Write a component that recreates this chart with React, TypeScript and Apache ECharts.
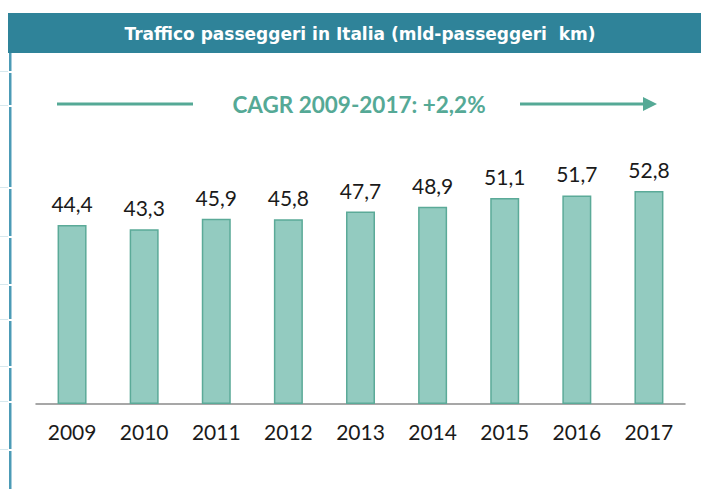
import React, { useEffect, useRef } from "react";
import * as echarts from "echarts";

const years = ["2009", "2010", "2011", "2012", "2013", "2014", "2015", "2016", "2017"];
const traffic = [44.4, 43.3, 45.9, 45.8, 47.7, 48.9, 51.1, 51.7, 52.8];
const titleText = "Traffico passeggeri in Italia (mld-passeggeri  km)";
const cagrText = "CAGR 2009-2017: +2,2%";

const FONT = "Lato, 'DejaVu Sans', sans-serif";
const TEAL = "#55A996";
const BORDER_BLUE = "#4C9BB6";

export default function App() {
  const ref = useRef<HTMLDivElement>(null);
  useEffect(() => {
    const chart = echarts.init(ref.current!, null, { renderer: "svg" });
    const gaps = [72, 106, 188, 237, 285, 320, 367, 402, 450];
    const segs: any[] = [];
    let start = 53;
    for (const g of gaps) {
      segs.push({
        type: "rect",
        shape: { x: 9, y: start, width: 2.5, height: g - 1 - start },
        style: { fill: BORDER_BLUE },
      });
      segs.push({
        type: "rect",
        shape: { x: 0, y: g - 1, width: 8, height: 1 },
        style: { fill: "#d6e8ee" },
      });
      start = g + 1;
    }
    segs.push({
      type: "rect",
      shape: { x: 9, y: start, width: 2.5, height: 489 - start },
      style: { fill: BORDER_BLUE },
    });
    chart.setOption({
      animation: false,
      backgroundColor: "#ffffff",
      grid: { left: 36, right: 16, top: 162, bottom: 85 },
      xAxis: {
        type: "category",
        data: years,
        axisTick: { show: false },
        axisLine: { lineStyle: { color: "#8a8a8a", width: 1.5 } },
        axisLabel: { color: "#1a1a1a", fontSize: 21, fontFamily: FONT, margin: 17 },
      },
      yAxis: {
        type: "value",
        min: 0,
        max: 60,
        show: false,
        splitLine: { show: false },
      },
      series: [
        {
          type: "bar",
          data: traffic,
          barWidth: 29,
          itemStyle: { color: "#93CBC0", borderColor: "#5BAA98", borderWidth: 1.5 },
          label: {
            show: true,
            position: "top",
            distance: 11,
            color: "#1a1a1a",
            fontSize: 21,
            fontFamily: FONT,
            formatter: (p: any) => String(p.value).replace(".", ","),
          },
        },
      ],
      graphic: [
        ...segs,
        {
          type: "rect",
          shape: { x: 8, y: 13, width: 693, height: 40 },
          style: { fill: "#2F8399" },
        },
        {
          type: "text",
          x: 360,
          y: 34,
          style: {
            text: titleText,
            fill: "#ffffff",
            font: `bold 17px 'DejaVu Sans', sans-serif`,
            textAlign: "center",
            textVerticalAlign: "middle",
          },
        },
        {
          type: "line",
          shape: { x1: 57, y1: 104, x2: 193, y2: 104 },
          style: { stroke: TEAL, lineWidth: 3 },
        },
        {
          type: "line",
          shape: { x1: 520, y1: 104, x2: 645, y2: 104 },
          style: { stroke: TEAL, lineWidth: 3 },
        },
        {
          type: "polygon",
          shape: { points: [[643, 97], [657, 104], [643, 111]] },
          style: { fill: TEAL },
        },
        {
          type: "text",
          x: 359,
          y: 104,
          style: {
            text: cagrText,
            fill: TEAL,
            font: `bold 22.5px ${FONT}`,
            textAlign: "center",
            textVerticalAlign: "middle",
          },
        },
      ],
    });
    return () => chart.dispose();
  }, []);
  return <div ref={ref} style={{ width: 701, height: 489, position: "absolute", left: 0, top: 0 }} />;
}
